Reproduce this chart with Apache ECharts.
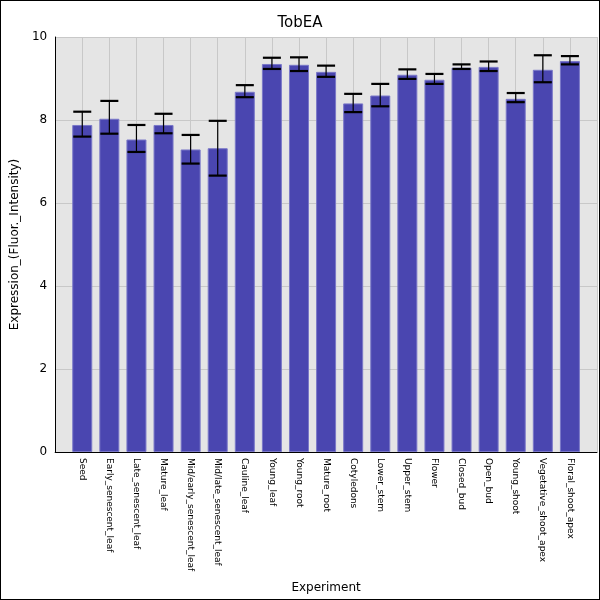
<!DOCTYPE html>
<html><head><meta charset="utf-8">
<script src="https://cdn.jsdelivr.net/npm/echarts@6/dist/echarts.min.js"></script>
<style>html,body{margin:0;padding:0;background:#fff}#c{width:598px;height:598px;border:1px solid #000}</style>
</head><body><div id="c"></div>
<script>
const categories=["Seed","Early_senescent_leaf","Late_senescent_leaf","Mature_leaf","Mid/early_senescent_leaf","Mid/late_senescent_leaf","Cauline_leaf","Young_leaf","Young_root","Mature_root","Cotyledons","Lower_stem","Upper_stem","Flower","Closed_bud","Open_bud","Young_shoot","Vegetative_shoot_apex","Floral_shoot_apex"];
const values=[7.88,8.03,7.53,7.88,7.29,7.32,8.68,9.35,9.33,9.16,8.40,8.59,9.09,8.97,9.26,9.28,8.51,9.21,9.42];
const errLow=[7.60,7.67,7.23,7.68,6.95,6.66,8.55,9.23,9.18,9.04,8.19,8.33,8.99,8.87,9.23,9.18,8.43,8.91,9.34];
const errHigh=[8.20,8.46,7.88,8.15,7.64,7.98,8.84,9.50,9.51,9.31,8.63,8.87,9.22,9.11,9.34,9.41,8.65,9.56,9.54];
const yTicks=[0,2,4,6,8,10];
const padCats=[''].concat(categories,['']);
const padVals=['-'].concat(values,['-']);
const chart=echarts.init(document.getElementById('c'));
chart.setOption({
  animation:false,
  title:{text:'TobEA',left:'center',top:10,textStyle:{fontFamily:'DejaVu Sans',fontSize:15,fontWeight:'normal',color:'#000'}},
  grid:{left:50,right:2,top:36,bottom:146,show:true,backgroundColor:'#e5e5e5',borderWidth:0},
  xAxis:{type:'category',data:padCats,boundaryGap:false,name:'Experiment',nameLocation:'middle',nameGap:130,
    nameTextStyle:{fontFamily:'DejaVu Sans',fontSize:12,color:'#000'},
    axisLine:{lineStyle:{color:'#000'}},axisTick:{show:false},
    splitLine:{show:true,interval:0,lineStyle:{color:'#c8c8c8'}},
    axisLabel:{rotate:-90,interval:0,fontFamily:'DejaVu Sans',fontSize:9,color:'#000',margin:6}},
  yAxis:{type:'value',min:0,max:10,interval:2,name:'Expression_(Fluor._Intensity)',nameLocation:'middle',nameGap:30,
    nameTextStyle:{fontFamily:'DejaVu Sans',fontSize:12,color:'#000'},
    axisLine:{show:true,lineStyle:{color:'#000'}},axisTick:{show:false},
    splitLine:{lineStyle:{color:'#c8c8c8'}},
    axisLabel:{fontFamily:'DejaVu Sans',fontSize:12,color:'#000',margin:8,
      formatter:v=>yTicks.includes(v)?String(v):''}},
  series:[
    {type:'bar',data:padVals,barWidth:20,itemStyle:{color:'#4a46b0',borderColor:'#7a78c8',borderWidth:1}},
    {type:'custom',data:categories.map((c,i)=>[i+1,errLow[i],errHigh[i]]),z:10,
     renderItem:(p,api)=>{const lo=api.coord([api.value(0),api.value(1)]);const hi=api.coord([api.value(0),api.value(2)]);const w=9;
      const s={stroke:'#000',lineWidth:2.2};
      return {type:'group',children:[
        {type:'line',shape:{x1:lo[0],y1:lo[1],x2:hi[0],y2:hi[1]},style:{stroke:'#000',lineWidth:1.2}},
        {type:'line',shape:{x1:lo[0]-w,y1:lo[1],x2:lo[0]+w,y2:lo[1]},style:s},
        {type:'line',shape:{x1:hi[0]-w,y1:hi[1],x2:hi[0]+w,y2:hi[1]},style:s}]};}}
  ]
});
</script></body></html>
